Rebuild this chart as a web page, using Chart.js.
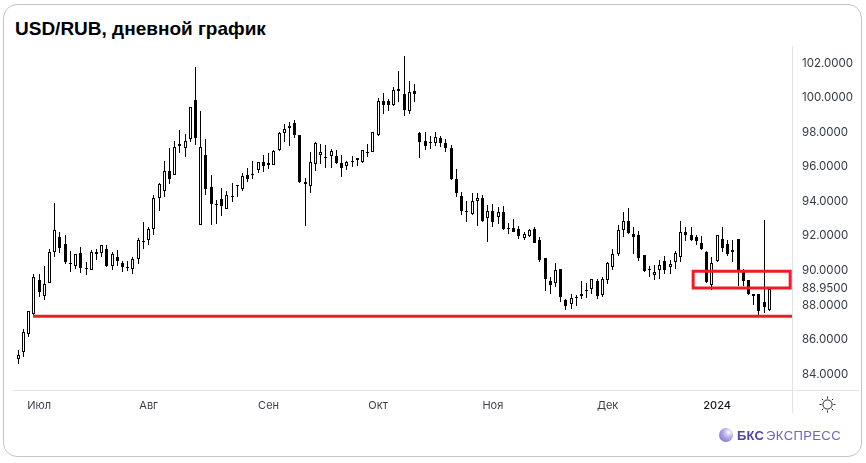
<!DOCTYPE html>
<html lang="ru">
<head>
<meta charset="utf-8">
<title>USD/RUB, дневной график</title>
<script src="https://cdn.jsdelivr.net/npm/chart.js@4"></script>
<style>
    html, body { margin: 0; padding: 0; background: #fff; }
    #page { position: relative; width: 866px; height: 463px; overflow: hidden; }
    #card { position: absolute; left: 3px; top: 4px; width: 857px; height: 451px; border: 1px solid #c4c4c4; border-radius: 14px; }
    #heading { position: absolute; left: 15px; top: 18px; font: bold 19px "Liberation Sans", Arial, sans-serif; color: #000; }
    #chart { position: absolute; left: 0; top: 0; }
    #axis-stub { position: absolute; left: 792px; top: 390px; width: 1px; height: 23px; background: #e0e3eb; }
    #axis-tail { position: absolute; left: 792px; top: 390px; width: 67px; height: 1px; background: #e0e3eb; }
    #sun { position: absolute; left: 819px; top: 396px; }
    #logo { position: absolute; left: 719px; top: 428px; height: 14px; font: 13px/14px "Liberation Sans", Arial, sans-serif; color: #4f46a5; white-space: nowrap; }
    #logo i { display: inline-block; width: 14px; height: 14px; border-radius: 50%; vertical-align: top; margin-right: 4px; background: radial-gradient(circle at 70% 30%, #fff 0, #b9b4ea 35%, #6a60c4 100%); }
    #logo b { position: relative; top: 1px; letter-spacing: 0.2px; }
    #logo span { position: relative; top: 1px; color: #6f68b8; margin-left: 2px; letter-spacing: 0.4px; }
</style>
</head>
<body>
<div id="page">
    <div id="card"></div>
    <div id="heading">USD/RUB, дневной график</div>
    <canvas id="chart" width="866" height="463"></canvas>
    <div id="axis-stub"></div>
    <div id="axis-tail"></div>
    <svg id="sun" width="17" height="17" viewBox="0 0 17 17" fill="none" stroke="#222" stroke-width="1">
        <circle cx="8.5" cy="8.5" r="4.6"/>
        <path d="M8.5 0.5v2M8.5 14.5v2M0.5 8.5h2M14.5 8.5h2M2.8 2.8l1.4 1.4M12.8 12.8l1.4 1.4M2.8 14.2l1.4-1.4M12.8 4.2l1.4-1.4"/>
    </svg>
    <div id="logo"><i></i><b>БКС</b><span>ЭКСПРЕСС</span></div>
</div>
<script>
// дневные свечи USD/RUB
const opens = [
    84.83, 85.24, 86.28, 87.43, 89.42, 88.47, 89.22, 91.02, 91.88, 91.48,
    90.38, 90.19, 90.96, 90.09, 89.97, 91.02, 90.96, 91.19, 90.19, 90.73,
    90.38, 90.17, 90.03, 90.61, 91.65, 91.69, 92.35, 94.14, 94.54, 95.70,
    95.47, 97.26, 97.03, 97.55, 99.80, 92.58, 96.62, 94.77, 93.81, 94.08,
    93.50, 94.27, 94.89, 94.64, 95.47, 95.52, 95.79, 96.22, 96.16, 96.08,
    96.91, 97.88, 98.30, 98.47, 97.78, 95.06, 94.81, 96.10, 96.66, 96.53,
    96.55, 96.58, 96.16, 95.99, 96.28, 96.45, 96.20, 96.81, 96.80, 97.76,
    99.74, 99.74, 99.55, 100.44, 100.15, 99.20, 100.34, 97.91, 97.43, 97.39,
    97.35, 97.60, 97.33, 97.05, 95.23, 94.27, 93.39, 93.19, 93.94, 94.16,
    92.96, 93.39, 93.02, 93.35, 92.42, 92.42, 92.36, 91.84, 91.92, 92.36,
    91.73, 90.67, 89.36, 89.20, 90.05, 88.24, 87.99, 88.42, 88.45, 88.84,
    88.90, 89.34, 88.51, 89.38, 90.13, 90.88, 92.29, 92.81, 92.08, 92.00,
    90.84, 90.03, 89.67, 89.97, 90.50, 90.13, 90.44, 90.71, 92.17, 92.02,
    91.86, 91.55, 91.02, 89.13, 90.48, 91.79, 91.50, 91.00, 91.79, 89.86,
    89.40, 88.59, 88.59, 88.13, 87.64
];
const highs = [
    85.37, 86.56, 87.63, 89.74, 89.76, 90.23, 91.19, 93.85, 92.17, 92.00,
    91.09, 90.92, 91.32, 90.46, 91.13, 91.19, 91.44, 91.42, 91.02, 91.13,
    90.51, 90.51, 90.73, 91.83, 92.77, 92.46, 94.31, 95.00, 96.30, 97.05,
    97.43, 98.09, 97.86, 99.42, 101.71, 99.18, 97.55, 95.49, 94.04, 94.72,
    94.54, 95.00, 94.89, 95.58, 95.87, 96.30, 96.24, 96.64, 96.76, 96.91,
    97.97, 98.43, 98.55, 98.66, 97.80, 95.29, 96.81, 97.37, 97.28, 97.22,
    96.99, 96.91, 96.62, 96.28, 96.58, 96.47, 96.91, 97.28, 97.99, 99.92,
    100.21, 99.86, 100.57, 101.48, 102.36, 100.90, 100.75, 97.95, 97.95, 97.72,
    97.95, 97.72, 97.57, 97.20, 95.81, 94.50, 93.96, 94.43, 94.43, 94.31,
    93.75, 93.81, 93.60, 93.69, 92.69, 92.94, 92.54, 92.17, 92.35, 92.48,
    91.90, 90.69, 89.57, 90.38, 90.05, 88.30, 88.61, 88.51, 89.36, 89.24,
    89.47, 89.47, 89.55, 90.44, 91.19, 92.60, 93.33, 93.56, 92.46, 92.21,
    90.84, 90.21, 90.28, 90.55, 90.80, 90.57, 91.05, 92.81, 92.46, 92.44,
    92.02, 91.92, 91.05, 90.71, 92.02, 92.46, 91.73, 91.73, 91.79, 90.05,
    89.40, 88.61, 88.61, 92.88, 88.88
];
const lows = [
    84.56, 84.93, 86.08, 87.39, 88.40, 88.26, 89.20, 90.75, 90.94, 90.34,
    89.84, 90.05, 89.78, 89.70, 89.95, 90.53, 90.75, 90.17, 89.99, 90.23,
    89.88, 89.93, 89.76, 90.34, 91.21, 91.44, 92.02, 93.40, 94.21, 94.97,
    95.45, 96.76, 96.53, 97.39, 97.22, 92.56, 94.29, 92.56, 92.61, 93.08,
    93.48, 93.92, 94.21, 94.52, 95.08, 95.25, 95.60, 95.66, 95.83, 96.06,
    96.89, 97.39, 97.16, 97.62, 95.02, 92.50, 94.45, 95.68, 96.12, 95.89,
    95.89, 96.12, 95.37, 95.78, 95.95, 96.01, 96.18, 96.53, 96.78, 97.74,
    99.01, 99.18, 99.49, 99.70, 98.86, 99.03, 99.67, 96.47, 96.93, 96.99,
    97.16, 97.12, 96.78, 95.20, 94.18, 93.17, 92.77, 93.17, 92.54, 92.73,
    91.61, 92.48, 92.65, 92.31, 92.08, 92.17, 91.79, 91.73, 91.90, 91.54,
    90.42, 88.78, 88.61, 88.97, 88.14, 87.68, 87.72, 87.91, 88.32, 88.34,
    88.57, 88.32, 88.42, 89.19, 89.97, 90.80, 91.90, 92.08, 90.92, 90.50,
    89.84, 89.59, 89.38, 89.47, 89.76, 89.76, 90.05, 90.46, 91.63, 91.67,
    91.44, 91.15, 89.24, 88.80, 90.46, 91.02, 90.77, 90.46, 89.07, 89.07,
    88.51, 87.97, 87.39, 87.47, 87.63
];
const closes = [
    85.08, 86.39, 87.59, 89.57, 88.70, 89.17, 91.02, 92.29, 91.23, 90.42,
    90.30, 90.90, 90.07, 90.01, 91.02, 90.88, 91.42, 90.19, 90.90, 90.48,
    90.13, 90.13, 90.61, 91.71, 91.57, 92.35, 94.14, 94.98, 95.70, 95.23,
    97.09, 97.18, 97.43, 99.40, 97.64, 97.09, 94.64, 93.79, 93.71, 93.66,
    94.31, 94.21, 94.81, 95.41, 95.27, 95.45, 96.22, 95.97, 96.08, 96.85,
    97.89, 98.13, 98.22, 97.76, 95.04, 94.93, 96.22, 97.32, 96.80, 96.49,
    96.85, 96.14, 95.85, 96.22, 96.20, 96.35, 96.91, 96.78, 97.95, 99.74,
    99.55, 99.55, 100.38, 100.36, 99.26, 100.26, 100.19, 97.41, 97.16, 97.30,
    97.68, 97.35, 97.01, 95.25, 94.41, 93.37, 93.31, 93.96, 94.14, 92.83,
    93.39, 92.73, 93.33, 92.36, 92.36, 92.19, 91.96, 92.06, 92.29, 91.55,
    90.57, 89.43, 89.11, 89.99, 88.40, 87.88, 88.38, 88.34, 88.61, 88.74,
    89.45, 88.49, 89.47, 90.40, 90.90, 92.29, 92.81, 92.09, 91.86, 90.65,
    89.93, 89.95, 89.86, 90.26, 89.99, 90.34, 90.98, 92.17, 91.98, 91.73,
    91.63, 91.21, 89.30, 90.38, 92.02, 91.25, 90.92, 91.15, 89.99, 89.32,
    88.59, 88.45, 87.59, 87.82, 88.88
];

const priceTicks = [84, 86, 88, 88.95, 90, 92, 94, 96, 98, 100, 102];
const monthCandles = [4, 25, 48, 69, 91, 113, 134];
const monthLabels = ['Июл', 'Авг', 'Сен', 'Окт', 'Ноя', 'Дек', '2024'];

const supportLevel = 87.3;
const zoneTop = 89.91;
const zoneBottom = 88.94;

const upColor = '#ffffff';
const downColor = '#000000';
const redColor = '#ee1c25';

const wicks = highs.map((h, i) => ({ x: i, y: [lows[i], h] }));
const bodies = opens.map((o, i) => ({ x: i, y: [o, closes[i]] }));

// у оригинала свечи стоят на целых пикселях
const snapBars = {
    id: 'snapBars',
    afterDatasetsUpdate(chart) {
        chart.data.datasets.forEach((ds, n) => {
            if (ds.type === 'line') return;
            chart.getDatasetMeta(n).data.forEach(el => {
                el.x = Math.floor(el.x) + 0.5;
                el.y = Math.round(el.y);
                el.base = Math.round(el.base);
                if (el.base === el.y) el.base = el.y + 1;
            });
        });
    }
};

new Chart(document.getElementById('chart'), {
    type: 'bar',
    data: {
        datasets: [
            {
                type: 'line',
                data: [{ x: 2.85, y: supportLevel }, { x: 148.35, y: supportLevel }],
                borderColor: redColor,
                borderWidth: 3,
                pointRadius: 0,
                tension: 0,
                order: 1
            },
            {
                type: 'line',
                data: [
                    { x: 129.4, y: zoneTop },
                    { x: 148, y: zoneTop },
                    { x: 148, y: zoneBottom },
                    { x: 129.4, y: zoneBottom },
                    { x: 129.4, y: zoneTop }
                ],
                borderColor: redColor,
                borderWidth: 3,
                borderJoinStyle: 'miter',
                borderCapStyle: 'square',
                pointRadius: 0,
                tension: 0,
                order: 1
            },
            {
                data: bodies,
                grouped: false,
                barThickness: 3,
                borderWidth: 1,
                borderColor: downColor,
                borderSkipped: false,
                inflateAmount: 0,
                backgroundColor: opens.map((o, i) => closes[i] >= o ? upColor : downColor),
                order: 2
            },
            {
                data: wicks,
                grouped: false,
                barThickness: 1,
                borderWidth: 0,
                inflateAmount: 0,
                backgroundColor: downColor,
                order: 3
            }
        ]
    },
    options: {
        responsive: false,
        animation: false,
        layout: { padding: { left: 13, top: 46, right: 0, bottom: 0 } },
        plugins: { legend: { display: false }, title: { display: false }, tooltip: { enabled: false } },
        scales: {
            x: {
                type: 'linear',
                offset: false,
                min: -1,
                max: 148.35,
                grid: { display: false, drawTicks: false },
                border: { display: true, color: '#e0e3eb' },
                afterBuildTicks: axis => { axis.ticks = monthCandles.map(v => ({ value: v })); },
                afterFit: axis => { axis.height = 73; },
                ticks: {
                    autoSkip: false,
                    maxRotation: 0,
                    padding: 9,
                    color: ctx => ctx.index === 6 ? '#131722' : '#3a3f4a',
                    font: ctx => ({ family: 'Inter', size: 11, weight: ctx.index === 6 ? '500' : '400' }),
                    callback: value => monthLabels[monthCandles.indexOf(value)]
                }
            },
            y: {
                position: 'right',
                min: 83.03,
                max: 102.94,
                grid: { display: false, drawTicks: false },
                border: { display: true, color: '#e0e3eb' },
                afterBuildTicks: axis => { axis.ticks = priceTicks.map(v => ({ value: v })); },
                afterFit: axis => { axis.width = 74; },
                ticks: {
                    autoSkip: false,
                    padding: 10,
                    labelOffset: 1,
                    color: '#333a45',
                    font: { family: 'Inter', size: 11.5 },
                    callback: value => value.toFixed(4)
                }
            }
        }
    },
    plugins: [snapBars]
});
</script>
</body>
</html>
